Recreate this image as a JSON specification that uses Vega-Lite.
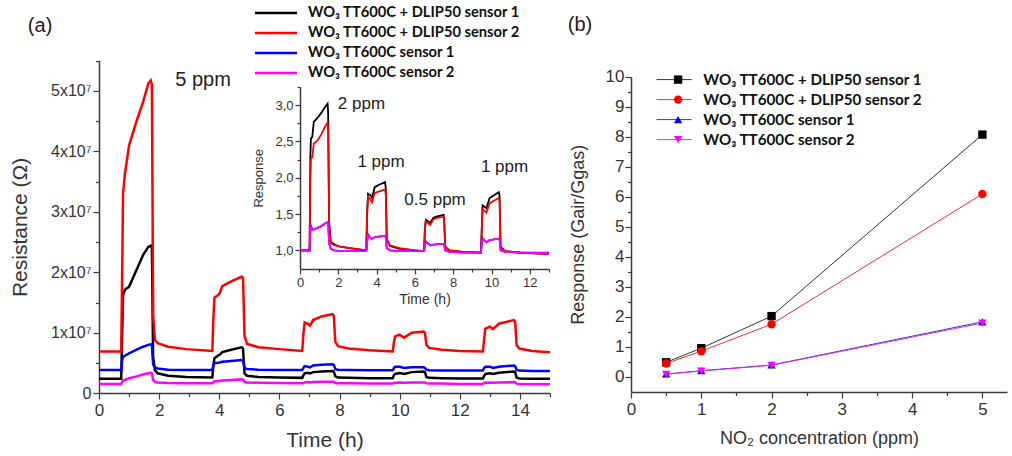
{
  "$schema": "https://vega.github.io/schema/vega-lite/v6.json",
  "width": 1012,
  "height": 456,
  "autosize": {"type": "none"},
  "padding": 0,
  "background": "white",
  "config": {
    "view": {"stroke": null},
    "axis": {"grid": false, "domainColor": "#3a3a3a", "domainWidth": 1.5, "tickColor": "#3a3a3a", "tickWidth": 1.2, "labelFont": "Liberation Sans", "titleFont": "Liberation Sans", "labelColor": "#333333", "titleColor": "#333333", "titleFontWeight": "normal", "labelFlush": false, "labelOverlap": false, "labelBound": false},
    "legend": {"title": null}
  },
  "datasets": {
    "panelB": [
      {"conc": 0.5, "sensor": "s1", "resp": 0.48}, {"conc": 1, "sensor": "s1", "resp": 0.95}, {"conc": 2, "sensor": "s1", "resp": 2.02}, {"conc": 5, "sensor": "s1", "resp": 8.07},
      {"conc": 0.5, "sensor": "s2", "resp": 0.44}, {"conc": 1, "sensor": "s2", "resp": 0.85}, {"conc": 2, "sensor": "s2", "resp": 1.75}, {"conc": 5, "sensor": "s2", "resp": 6.09},
      {"conc": 0.5, "sensor": "s3", "resp": 0.09}, {"conc": 1, "sensor": "s3", "resp": 0.2}, {"conc": 2, "sensor": "s3", "resp": 0.39}, {"conc": 5, "sensor": "s3", "resp": 1.83},
      {"conc": 0.5, "sensor": "s4", "resp": 0.08}, {"conc": 1, "sensor": "s4", "resp": 0.19}, {"conc": 2, "sensor": "s4", "resp": 0.38}, {"conc": 5, "sensor": "s4", "resp": 1.79}
    ]
  },
  "resolve": {
    "scale": {"x": "independent", "y": "independent", "color": "independent", "stroke": "independent", "fill": "independent", "shape": "independent"},
    "axis": {"x": "independent", "y": "independent"},
    "legend": {"color": "independent", "stroke": "independent", "fill": "independent", "shape": "independent"}
  },
  "layer": [
    {
      "data": {"values": [
        {"t": 0, "s1": 2.4e6, "s2": 6.9e6, "s3": 3.85e6, "s4": 1.55e6},
        {"t": 0.74, "s1": 2.4e6, "s2": 6.9e6, "s3": 3.85e6, "s4": 1.55e6},
        {"t": 0.77, "s1": 1.0e7, "s2": 2.0e7, "s3": 5.5e6, "s4": 1.9e6},
        {"t": 0.80, "s1": 1.62e7, "s2": 3.3e7, "s3": 6.0e6, "s4": 2.1e6},
        {"t": 0.86, "s1": 1.71e7, "s2": 3.62e7, "s3": 6.2e6, "s4": 2.2e6},
        {"t": 1.0, "s1": 1.76e7, "s2": 4.1e7, "s3": 6.6e6, "s4": 2.5e6},
        {"t": 1.25, "s1": 2.04e7, "s2": 4.5e7, "s3": 7.2e6, "s4": 2.8e6},
        {"t": 1.47, "s1": 2.29e7, "s2": 4.82e7, "s3": 7.7e6, "s4": 3.1e6},
        {"t": 1.64, "s1": 2.42e7, "s2": 5.12e7, "s3": 8.0e6, "s4": 3.3e6},
        {"t": 1.72, "s1": 2.44e7, "s2": 5.17e7, "s3": 8.1e6, "s4": 3.4e6},
        {"t": 1.76, "s1": 2.4e7, "s2": 5.1e7, "s3": 8.0e6, "s4": 3.3e6},
        {"t": 1.80, "s1": 6.0e6, "s2": 1.3e7, "s3": 4.8e6, "s4": 2.2e6},
        {"t": 1.86, "s1": 3.8e6, "s2": 8.8e6, "s3": 4.3e6, "s4": 1.9e6},
        {"t": 1.95, "s1": 3.3e6, "s2": 8.3e6, "s3": 4.1e6, "s4": 1.8e6},
        {"t": 2.3, "s1": 2.9e6, "s2": 7.7e6, "s3": 3.9e6, "s4": 1.7e6},
        {"t": 2.9, "s1": 2.7e6, "s2": 7.3e6, "s3": 3.85e6, "s4": 1.65e6},
        {"t": 3.77, "s1": 2.6e6, "s2": 7.0e6, "s3": 3.85e6, "s4": 1.65e6},
        {"t": 3.80, "s1": 4.5e6, "s2": 1.2e7, "s3": 4.5e6, "s4": 1.8e6},
        {"t": 3.84, "s1": 5.8e6, "s2": 1.58e7, "s3": 5.0e6, "s4": 2.0e6},
        {"t": 3.95, "s1": 6.2e6, "s2": 1.62e7, "s3": 5.05e6, "s4": 2.0e6},
        {"t": 4.02, "s1": 6.4e6, "s2": 1.66e7, "s3": 5.1e6, "s4": 2.05e6},
        {"t": 4.1, "s1": 6.8e6, "s2": 1.77e7, "s3": 5.2e6, "s4": 2.1e6},
        {"t": 4.4, "s1": 7.2e6, "s2": 1.85e7, "s3": 5.35e6, "s4": 2.2e6},
        {"t": 4.75, "s1": 7.6e6, "s2": 1.93e7, "s3": 5.5e6, "s4": 2.3e6},
        {"t": 4.79, "s1": 7.4e6, "s2": 1.9e7, "s3": 5.4e6, "s4": 2.25e6},
        {"t": 4.84, "s1": 3.3e6, "s2": 9.5e6, "s3": 4.2e6, "s4": 1.9e6},
        {"t": 4.92, "s1": 2.9e6, "s2": 8.2e6, "s3": 4.0e6, "s4": 1.8e6},
        {"t": 5.3, "s1": 2.7e6, "s2": 7.6e6, "s3": 3.9e6, "s4": 1.75e6},
        {"t": 6.0, "s1": 2.6e6, "s2": 7.3e6, "s3": 3.85e6, "s4": 1.7e6},
        {"t": 6.76, "s1": 2.55e6, "s2": 7.0e6, "s3": 3.85e6, "s4": 1.65e6},
        {"t": 6.80, "s1": 3.0e6, "s2": 1.0e7, "s3": 4.2e6, "s4": 1.7e6},
        {"t": 6.84, "s1": 3.3e6, "s2": 1.17e7, "s3": 4.5e6, "s4": 1.8e6},
        {"t": 6.95, "s1": 3.4e6, "s2": 1.15e7, "s3": 4.4e6, "s4": 1.85e6},
        {"t": 7.02, "s1": 3.3e6, "s2": 1.12e7, "s3": 4.3e6, "s4": 1.8e6},
        {"t": 7.12, "s1": 3.5e6, "s2": 1.21e7, "s3": 4.6e6, "s4": 1.85e6},
        {"t": 7.4, "s1": 3.6e6, "s2": 1.27e7, "s3": 4.7e6, "s4": 1.9e6},
        {"t": 7.77, "s1": 3.7e6, "s2": 1.31e7, "s3": 4.8e6, "s4": 1.9e6},
        {"t": 7.81, "s1": 3.6e6, "s2": 1.28e7, "s3": 4.7e6, "s4": 1.9e6},
        {"t": 7.86, "s1": 2.8e6, "s2": 8.5e6, "s3": 4.0e6, "s4": 1.7e6},
        {"t": 7.95, "s1": 2.6e6, "s2": 7.8e6, "s3": 3.9e6, "s4": 1.65e6},
        {"t": 8.3, "s1": 2.55e6, "s2": 7.4e6, "s3": 3.85e6, "s4": 1.65e6},
        {"t": 9.0, "s1": 2.5e6, "s2": 7.1e6, "s3": 3.8e6, "s4": 1.6e6},
        {"t": 9.77, "s1": 2.5e6, "s2": 6.9e6, "s3": 3.8e6, "s4": 1.6e6},
        {"t": 9.81, "s1": 3.0e6, "s2": 8.5e6, "s3": 4.2e6, "s4": 1.7e6},
        {"t": 9.85, "s1": 3.2e6, "s2": 9.4e6, "s3": 4.4e6, "s4": 1.75e6},
        {"t": 10.0, "s1": 3.35e6, "s2": 9.7e6, "s3": 4.4e6, "s4": 1.8e6},
        {"t": 10.15, "s1": 3.2e6, "s2": 9.2e6, "s3": 4.2e6, "s4": 1.75e6},
        {"t": 10.4, "s1": 3.5e6, "s2": 1.0e7, "s3": 4.3e6, "s4": 1.8e6},
        {"t": 10.8, "s1": 3.6e6, "s2": 1.02e7, "s3": 4.3e6, "s4": 1.8e6},
        {"t": 10.84, "s1": 3.5e6, "s2": 1.0e7, "s3": 4.2e6, "s4": 1.8e6},
        {"t": 10.89, "s1": 2.7e6, "s2": 8.0e6, "s3": 3.9e6, "s4": 1.65e6},
        {"t": 10.98, "s1": 2.55e6, "s2": 7.5e6, "s3": 3.8e6, "s4": 1.6e6},
        {"t": 11.4, "s1": 2.5e6, "s2": 7.2e6, "s3": 3.75e6, "s4": 1.6e6},
        {"t": 12.0, "s1": 2.45e6, "s2": 7.0e6, "s3": 3.75e6, "s4": 1.55e6},
        {"t": 12.77, "s1": 2.45e6, "s2": 6.9e6, "s3": 3.75e6, "s4": 1.55e6},
        {"t": 12.81, "s1": 2.9e6, "s2": 9.0e6, "s3": 4.2e6, "s4": 1.7e6},
        {"t": 12.85, "s1": 3.2e6, "s2": 1.07e7, "s3": 4.4e6, "s4": 1.75e6},
        {"t": 13.0, "s1": 3.3e6, "s2": 1.1e7, "s3": 4.4e6, "s4": 1.8e6},
        {"t": 13.1, "s1": 3.2e6, "s2": 1.06e7, "s3": 4.2e6, "s4": 1.75e6},
        {"t": 13.3, "s1": 3.4e6, "s2": 1.15e7, "s3": 4.4e6, "s4": 1.8e6},
        {"t": 13.8, "s1": 3.6e6, "s2": 1.21e7, "s3": 4.6e6, "s4": 1.85e6},
        {"t": 13.84, "s1": 3.5e6, "s2": 1.18e7, "s3": 4.5e6, "s4": 1.8e6},
        {"t": 13.89, "s1": 2.6e6, "s2": 8.0e6, "s3": 3.85e6, "s4": 1.6e6},
        {"t": 13.98, "s1": 2.45e6, "s2": 7.4e6, "s3": 3.75e6, "s4": 1.55e6},
        {"t": 14.4, "s1": 2.4e6, "s2": 7.0e6, "s3": 3.7e6, "s4": 1.5e6},
        {"t": 15, "s1": 2.4e6, "s2": 6.8e6, "s3": 3.7e6, "s4": 1.5e6}
      ]},
      "transform": [{"fold": ["s1", "s2", "s3", "s4"], "as": ["sensor", "R"]}],
      "mark": {"type": "line", "strokeWidth": 2.5},
      "encoding": {
        "x": {"field": "t", "type": "quantitative",
          "scale": {"domain": [0, 15], "range": [99, 550], "nice": false, "zero": false},
          "axis": {"orient": "bottom", "offset": -63, "values": [0,1,2,3,4,5,6,7,8,9,10,11,12,13,14,15],
            "labelExpr": "datum.value % 2 === 0 ? datum.label : ''",
            "tickSize": {"condition": {"test": "datum.value % 2 === 0", "value": 6}, "value": 3.5},
            "labelFontSize": 17, "labelPadding": 3, "title": "Time (h)", "titleFontSize": 21, "titlePadding": 11}},
        "y": {"field": "R", "type": "quantitative",
          "scale": {"domain": [0, 55000000], "range": [393.3, 60.5], "nice": false, "zero": false},
          "axis": {"orient": "left", "offset": -99, "values": [0, 5000000, 10000000, 15000000, 20000000, 25000000, 30000000, 35000000, 40000000, 45000000, 50000000, 55000000],
            "labelExpr": "datum.value % 10000000 === 0 ? (datum.value === 0 ? '0' : format(datum.value / 10000000, 'd') + 'x10⁷') : ''",
            "tickSize": {"condition": {"test": "datum.value % 10000000 === 0", "value": 6}, "value": 3.5},
            "labelFontSize": 16, "labelPadding": 2, "title": "Resistance (Ω)", "titleFontSize": 21, "titlePadding": 20}},
        "color": {"field": "sensor", "type": "nominal",
          "scale": {"domain": ["s1", "s2", "s3", "s4"], "range": ["#000000", "#ff0000", "#0000ff", "#ff00ff"]},
          "legend": {"orient": "none", "legendX": 267, "legendY": 4, "padding": 0,
            "symbolType": "M-2.8,0L2.8,0", "symbolSize": 225, "symbolStrokeWidth": 2.5,
            "labelFont": "Lato", "labelFontWeight": "bold", "labelFontSize": 14.7, "labelColor": "#111111",
            "labelOffset": 23, "labelLimit": 400, "rowPadding": 4,
            "labelExpr": "datum.label === 's1' ? 'WO₃ TT600C + DLIP50 sensor 1' : datum.label === 's2' ? 'WO₃ TT600C + DLIP50 sensor 2' : datum.label === 's3' ? 'WO₃ TT600C sensor 1' : 'WO₃ TT600C sensor 2'"}}
      }
    },
    {
      "data": {"values": [
        {"t": 0, "s1": 1.0, "s2": 1.0, "s3": 1.0, "s4": 1.0},
        {"t": 0.5, "s1": 1.0, "s2": 1.0, "s3": 1.0, "s4": 1.0},
        {"t": 0.54, "s1": 2.3, "s2": 2.0, "s3": 1.3, "s4": 1.3},
        {"t": 0.57, "s1": 2.54, "s2": 2.26, "s3": 1.35, "s4": 1.33},
        {"t": 0.64, "s1": 2.56, "s2": 2.28, "s3": 1.28, "s4": 1.28},
        {"t": 0.72, "s1": 2.77, "s2": 2.47, "s3": 1.29, "s4": 1.29},
        {"t": 0.9, "s1": 2.82, "s2": 2.51, "s3": 1.31, "s4": 1.31},
        {"t": 1.1, "s1": 2.89, "s2": 2.59, "s3": 1.33, "s4": 1.33},
        {"t": 1.3, "s1": 2.97, "s2": 2.7, "s3": 1.37, "s4": 1.37},
        {"t": 1.44, "s1": 3.02, "s2": 2.76, "s3": 1.39, "s4": 1.39},
        {"t": 1.47, "s1": 2.9, "s2": 2.65, "s3": 1.36, "s4": 1.36},
        {"t": 1.52, "s1": 1.4, "s2": 1.35, "s3": 1.1, "s4": 1.1},
        {"t": 1.6, "s1": 1.12, "s2": 1.1, "s3": 1.02, "s4": 1.02},
        {"t": 1.8, "s1": 1.08, "s2": 1.07, "s3": 1.0, "s4": 1.0},
        {"t": 2.1, "s1": 1.05, "s2": 1.05, "s3": 0.99, "s4": 0.99},
        {"t": 2.6, "s1": 1.03, "s2": 1.03, "s3": 0.99, "s4": 0.99},
        {"t": 3.46, "s1": 1.0, "s2": 1.0, "s3": 0.99, "s4": 0.99},
        {"t": 3.5, "s1": 1.5, "s2": 1.45, "s3": 1.1, "s4": 1.1},
        {"t": 3.55, "s1": 1.78, "s2": 1.74, "s3": 1.22, "s4": 1.21},
        {"t": 3.68, "s1": 1.76, "s2": 1.7, "s3": 1.17, "s4": 1.17},
        {"t": 3.76, "s1": 1.72, "s2": 1.66, "s3": 1.16, "s4": 1.16},
        {"t": 3.9, "s1": 1.87, "s2": 1.79, "s3": 1.18, "s4": 1.18},
        {"t": 4.1, "s1": 1.9, "s2": 1.81, "s3": 1.19, "s4": 1.19},
        {"t": 4.44, "s1": 1.94, "s2": 1.84, "s3": 1.2, "s4": 1.2},
        {"t": 4.48, "s1": 1.85, "s2": 1.76, "s3": 1.17, "s4": 1.17},
        {"t": 4.53, "s1": 1.15, "s2": 1.15, "s3": 1.03, "s4": 1.03},
        {"t": 4.7, "s1": 1.06, "s2": 1.07, "s3": 1.0, "s4": 1.0},
        {"t": 5.2, "s1": 1.02, "s2": 1.03, "s3": 0.99, "s4": 0.99},
        {"t": 6.0, "s1": 1.0, "s2": 1.0, "s3": 0.99, "s4": 0.99},
        {"t": 6.48, "s1": 0.99, "s2": 0.99, "s3": 0.99, "s4": 0.99},
        {"t": 6.52, "s1": 1.3, "s2": 1.28, "s3": 1.08, "s4": 1.08},
        {"t": 6.57, "s1": 1.42, "s2": 1.4, "s3": 1.12, "s4": 1.11},
        {"t": 6.8, "s1": 1.38, "s2": 1.35, "s3": 1.07, "s4": 1.07},
        {"t": 6.97, "s1": 1.45, "s2": 1.43, "s3": 1.08, "s4": 1.08},
        {"t": 7.2, "s1": 1.47, "s2": 1.45, "s3": 1.085, "s4": 1.085},
        {"t": 7.5, "s1": 1.49, "s2": 1.46, "s3": 1.09, "s4": 1.09},
        {"t": 7.53, "s1": 1.4, "s2": 1.38, "s3": 1.07, "s4": 1.07},
        {"t": 7.58, "s1": 1.05, "s2": 1.05, "s3": 1.0, "s4": 1.0},
        {"t": 7.8, "s1": 1.0, "s2": 1.0, "s3": 0.98, "s4": 0.98},
        {"t": 8.5, "s1": 0.98, "s2": 0.98, "s3": 0.97, "s4": 0.97},
        {"t": 9.45, "s1": 0.97, "s2": 0.97, "s3": 0.97, "s4": 0.97},
        {"t": 9.49, "s1": 1.3, "s2": 1.28, "s3": 1.1, "s4": 1.1},
        {"t": 9.53, "s1": 1.62, "s2": 1.57, "s3": 1.17, "s4": 1.16},
        {"t": 9.73, "s1": 1.58, "s2": 1.52, "s3": 1.11, "s4": 1.11},
        {"t": 9.9, "s1": 1.72, "s2": 1.65, "s3": 1.14, "s4": 1.14},
        {"t": 10.38, "s1": 1.8, "s2": 1.72, "s3": 1.16, "s4": 1.16},
        {"t": 10.42, "s1": 1.75, "s2": 1.68, "s3": 1.15, "s4": 1.15},
        {"t": 10.47, "s1": 1.05, "s2": 1.05, "s3": 1.0, "s4": 1.0},
        {"t": 10.7, "s1": 0.99, "s2": 0.99, "s3": 0.98, "s4": 0.98},
        {"t": 11.5, "s1": 0.97, "s2": 0.97, "s3": 0.97, "s4": 0.97},
        {"t": 13, "s1": 0.95, "s2": 0.95, "s3": 0.97, "s4": 0.96}
      ]},
      "transform": [{"fold": ["s1", "s2", "s3", "s4"], "as": ["sensor", "r"]}],
      "mark": {"type": "line", "strokeWidth": 1.8},
      "encoding": {
        "x": {"field": "t", "type": "quantitative",
          "scale": {"domain": [0, 13], "range": [300, 549], "nice": false, "zero": false},
          "axis": {"orient": "bottom", "offset": -187, "values": [0,1,2,3,4,5,6,7,8,9,10,11,12,13],
            "labelExpr": "datum.value % 2 === 0 ? datum.label : ''",
            "tickSize": {"condition": {"test": "datum.value % 2 === 0", "value": 5}, "value": 3},
            "labelFontSize": 13, "labelPadding": 2, "title": "Time (h)", "titleFontSize": 14, "titlePadding": 3}},
        "y": {"field": "r", "type": "quantitative",
          "scale": {"domain": [0.75, 3.25], "range": [268.5, 87], "nice": false, "zero": false},
          "axis": {"orient": "left", "offset": -300, "values": [1, 1.25, 1.5, 1.75, 2, 2.25, 2.5, 2.75, 3, 3.25],
            "labelExpr": "(datum.value * 2) % 1 === 0 ? replace(format(datum.value, '.1f'), '.', ',') : ''",
            "tickSize": {"condition": {"test": "(datum.value * 2) % 1 === 0", "value": 5}, "value": 3},
            "labelFontSize": 13, "labelPadding": 2, "title": "Response", "titleFontSize": 13, "titlePadding": 9}},
        "color": {"field": "sensor", "type": "nominal",
          "scale": {"domain": ["s1", "s2", "s3", "s4"], "range": ["#000000", "#ff0000", "#0000ff", "#ff00ff"]},
          "legend": null}
      }
    },
    {
      "data": {"name": "panelB"},
      "mark": {"type": "line", "strokeWidth": 1},
      "encoding": {
        "x": {"field": "conc", "type": "quantitative",
          "scale": {"domain": [0, 5.35], "range": [631, 1007], "nice": false, "zero": false},
          "axis": {"orient": "bottom", "offset": -64, "values": [0, 0.5, 1, 1.5, 2, 2.5, 3, 3.5, 4, 4.5, 5],
            "labelExpr": "datum.value % 1 === 0 ? format(datum.value, 'd') : ''",
            "tickSize": {"condition": {"test": "datum.value % 1 === 0", "value": 6}, "value": 3.5},
            "labelFontSize": 17, "labelPadding": 3, "title": "NO₂ concentration (ppm)", "titleFontSize": 18, "titlePadding": 12}},
        "y": {"field": "resp", "type": "quantitative",
          "scale": {"domain": [-0.5, 10], "range": [391.7, 76.7], "nice": false, "zero": false},
          "axis": {"orient": "left", "offset": -631, "values": [0, 0.5, 1, 1.5, 2, 2.5, 3, 3.5, 4, 4.5, 5, 5.5, 6, 6.5, 7, 7.5, 8, 8.5, 9, 9.5, 10],
            "labelExpr": "datum.value % 1 === 0 ? format(datum.value, 'd') : ''",
            "tickSize": {"condition": {"test": "datum.value % 1 === 0", "value": 6}, "value": 3.5},
            "labelFontSize": 17, "labelPadding": 1, "title": "Response (Gair/Ggas)", "titleFontSize": 18, "titlePadding": 18}},
        "stroke": {"field": "sensor", "type": "nominal",
          "scale": {"domain": ["s1", "s2", "s3", "s4"], "range": ["#333333", "#ee3030", "#3030dd", "#dd30dd"]},
          "legend": {"orient": "none", "legendX": 666.5, "legendY": 72, "padding": 0,
            "symbolType": "M-4.19,0L4.19,0", "symbolSize": 70, "symbolStrokeWidth": 1,
            "labelFont": "Lato", "labelFontWeight": "bold", "labelFontSize": 15.2,
            "labelExpr": "''", "labelOffset": 17.5, "labelLimit": 400, "rowPadding": 4}}
      }
    },
    {
      "data": {"name": "panelB"},
      "mark": {"type": "point", "filled": true, "size": 70, "opacity": 1},
      "encoding": {
        "x": {"field": "conc", "type": "quantitative",
          "scale": {"domain": [0, 5.35], "range": [631, 1007], "nice": false, "zero": false}, "axis": null},
        "y": {"field": "resp", "type": "quantitative",
          "scale": {"domain": [-0.5, 10], "range": [391.7, 76.7], "nice": false, "zero": false}, "axis": null},
        "fill": {"field": "sensor", "type": "nominal",
          "scale": {"domain": ["s1", "s2", "s3", "s4"], "range": ["#000000", "#ff0000", "#0000ff", "#ff00ff"]},
          "legend": {"orient": "none", "legendX": 670.5, "legendY": 72, "padding": 0,
            "symbolSize": 70, "symbolStrokeWidth": 1,
            "labelFont": "Lato", "labelFontWeight": "bold", "labelFontSize": 15.2, "labelColor": "#111111",
            "labelOffset": 17.5, "labelLimit": 400, "rowPadding": 4,
            "labelExpr": "datum.label === 's1' ? 'WO₃ TT600C + DLIP50 sensor 1' : datum.label === 's2' ? 'WO₃ TT600C + DLIP50 sensor 2' : datum.label === 's3' ? 'WO₃ TT600C sensor 1' : 'WO₃ TT600C sensor 2'"}},
        "shape": {"field": "sensor", "type": "nominal",
          "scale": {"domain": ["s1", "s2", "s3", "s4"], "range": ["square", "circle", "triangle-up", "triangle-down"]},
          "legend": {"orient": "none", "legendX": 670.5, "legendY": 72, "padding": 0,
            "symbolSize": 70, "symbolStrokeWidth": 1,
            "labelFont": "Lato", "labelFontWeight": "bold", "labelFontSize": 15.2, "labelColor": "#111111",
            "labelOffset": 17.5, "labelLimit": 400, "rowPadding": 4,
            "labelExpr": "datum.label === 's1' ? 'WO₃ TT600C + DLIP50 sensor 1' : datum.label === 's2' ? 'WO₃ TT600C + DLIP50 sensor 2' : datum.label === 's3' ? 'WO₃ TT600C sensor 1' : 'WO₃ TT600C sensor 2'"}}
      }
    },
    {
      "data": {"values": [
        {"t": 3.46, "R": 51700000, "label": "5 ppm"},
        {"t": -1.96, "R": 60700000, "label": "(a)"}
      ]},
      "mark": {"type": "text", "font": "Liberation Sans", "fontSize": 20, "color": "#222222", "align": "center", "baseline": "middle"},
      "encoding": {
        "x": {"field": "t", "type": "quantitative", "scale": {"domain": [0, 15], "range": [99, 550], "nice": false, "zero": false}, "axis": null},
        "y": {"field": "R", "type": "quantitative", "scale": {"domain": [0, 55000000], "range": [393.3, 60.5], "nice": false, "zero": false}, "axis": null},
        "text": {"field": "label"}
      }
    },
    {
      "data": {"values": [
        {"t": 3.21, "r": 3.015, "label": "2 ppm"},
        {"t": 4.23, "r": 2.22, "label": "1 ppm"},
        {"t": 7.05, "r": 1.69, "label": "0.5 ppm"},
        {"t": 10.68, "r": 2.15, "label": "1 ppm"}
      ]},
      "mark": {"type": "text", "font": "Liberation Sans", "fontSize": 17, "color": "#222222", "align": "center", "baseline": "middle"},
      "encoding": {
        "x": {"field": "t", "type": "quantitative", "scale": {"domain": [0, 13], "range": [300, 549], "nice": false, "zero": false}, "axis": null},
        "y": {"field": "r", "type": "quantitative", "scale": {"domain": [0.75, 3.25], "range": [268.5, 87], "nice": false, "zero": false}, "axis": null},
        "text": {"field": "label"}
      }
    },
    {
      "data": {"values": [
        {"conc": -0.726, "resp": 11.72, "label": "(b)"}
      ]},
      "mark": {"type": "text", "font": "Liberation Sans", "fontSize": 20, "color": "#222222", "align": "center", "baseline": "middle"},
      "encoding": {
        "x": {"field": "conc", "type": "quantitative", "scale": {"domain": [0, 5.35], "range": [631, 1007], "nice": false, "zero": false}, "axis": null},
        "y": {"field": "resp", "type": "quantitative", "scale": {"domain": [-0.5, 10], "range": [391.7, 76.7], "nice": false, "zero": false}, "axis": null},
        "text": {"field": "label"}
      }
    }
  ]
}
